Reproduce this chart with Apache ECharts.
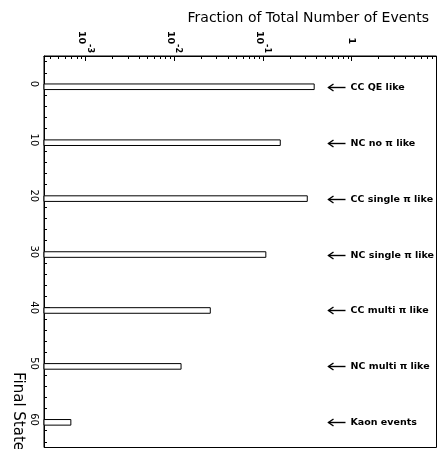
<!DOCTYPE html>
<html>
<head>
<meta charset="utf-8">
<script src="https://cdn.jsdelivr.net/npm/echarts@6/dist/echarts.min.js"></script>
<style>
  html, body { margin: 0; padding: 0; background: #fff; }
  #chart { width: 437px; height: 449px; }
</style>
</head>
<body>
<div id="chart"></div>
<script>
// Final-state classes, their row on the vertical axis, and fraction of all events
const finalStates = ['CC QE like', 'NC no π like', 'CC single π like', 'NC single π like',
                     'CC multi π like', 'NC multi π like', 'Kaon events'];
const statePositions = [0, 10, 20, 30, 40, 50, 60];
const eventFractions = [0.378, 0.157, 0.316, 0.108, 0.0256, 0.0120, 0.00069];

// Axis ranges
const fractionRange = [3.44e-4, 9.0];
const stateRange = [-5, 65];

// Log-axis minor ticks: mantissas 2..9 in each decade
const minorMantissas = [2, 3, 4, 5, 6, 7, 8, 9];
const minorDecades = [-4, -3, -2, -1, 0];
const minorTickValues = [];
minorDecades.forEach(d => minorMantissas.forEach(m => {
  const v = m * Math.pow(10, d);
  if (v > fractionRange[0] && v <= fractionRange[1]) minorTickValues.push(v);
}));

const FONT = 'DejaVu Sans';
const chart = echarts.init(document.getElementById('chart'));

chart.setOption({
  animation: false,
  backgroundColor: '#fff',
  title: {
    text: 'Fraction of Total Number of Events',
    right: 3,
    top: 6,
    textStyle: { fontFamily: FONT, fontSize: 14, fontWeight: 'normal', color: '#000' }
  },
  graphic: [{
    type: 'text',
    x: 18,
    y: 372,
    rotation: -Math.PI / 2,
    style: {
      text: 'Final State',
      fontFamily: FONT,
      fontSize: 15,
      fill: '#000',
      align: 'left',
      verticalAlign: 'middle'
    }
  }],
  grid: {
    left: 44, top: 56, right: 0.5, bottom: 1.5,
    show: true, borderColor: '#000', borderWidth: 1, backgroundColor: 'transparent'
  },
  xAxis: {
    type: 'log',
    position: 'top',
    min: fractionRange[0],
    max: fractionRange[1],
    axisLine: { show: true, onZero: false, lineStyle: { color: '#000', width: 1 } },
    axisTick: { show: true, inside: true, length: 5, lineStyle: { color: '#000' } },
    minorTick: { show: false },
    splitLine: { show: false },
    axisLabel: {
      show: true,
      rotate: 90,
      margin: 3,
      showMinLabel: false,
      showMaxLabel: false,
      color: '#000',
      formatter: v => {
        const e = Math.round(Math.log10(v));
        if (e === 0) return '{one|1}';
        return '{b|10}{s|' + e + '}';
      },
      rich: {
        b: { fontFamily: FONT, fontWeight: 'bold', fontSize: 9.5, lineHeight: 17, verticalAlign: 'bottom', color: '#000' },
        s: { fontFamily: FONT, fontWeight: 'bold', fontSize: 8, lineHeight: 17, verticalAlign: 'top', color: '#000' },
        one: { fontFamily: FONT, fontWeight: 'bold', fontSize: 9.5, lineHeight: 17, padding: [0, 9, 0, 0], color: '#000' }
      }
    }
  },
  yAxis: {
    type: 'value',
    inverse: true,
    min: stateRange[0],
    max: stateRange[1],
    axisLine: { show: true, onZero: false, lineStyle: { color: '#000', width: 1 } },
    axisTick: { show: true, inside: true, length: 6, lineStyle: { color: '#000' } },
    minorTick: { show: true, splitNumber: 5, length: 3, lineStyle: { color: '#000' } },
    splitLine: { show: false },
    axisLabel: {
      show: true,
      rotate: -90,
      margin: 5,
      showMinLabel: false,
      showMaxLabel: false,
      fontFamily: FONT,
      fontSize: 10,
      color: '#000'
    }
  },
  series: [
    {
      // outlined bars, one unit tall, from the left edge of the log axis
      type: 'custom',
      name: 'fractions',
      data: statePositions.map((s, i) => [eventFractions[i], s]),
      encode: { x: 0, y: 1 },
      renderItem: (params, api) => {
        const v = api.value(0);
        const s = api.value(1);
        const p0 = api.coord([fractionRange[0], s]);
        const p1 = api.coord([v, s + 1]);
        const cs = params.coordSys;
        const cy = Math.round((p0[1] + p1[1]) / 2) + 0.5;
        const ax = cs.x + cs.width - 108;
        return {
          type: 'group',
          children: [
            {
              type: 'rect',
              shape: { x: p0[0], y: p0[1], width: p1[0] - p0[0], height: p1[1] - p0[1] },
              style: { fill: '#fff', stroke: '#000', lineWidth: 1 }
            },
            {
              // pointer arrow: shaft and open head
              type: 'polyline',
              shape: { points: [[ax + 17, cy], [ax, cy]] },
              style: { stroke: '#000', lineWidth: 1.4, fill: null }
            },
            {
              type: 'polyline',
              shape: { points: [[ax + 5, cy - 3.5], [ax, cy], [ax + 5, cy + 3.5]] },
              style: { stroke: '#000', lineWidth: 1.4, fill: null }
            },
            {
              type: 'text',
              x: ax + 22,
              y: cy,
              style: {
                text: finalStates[params.dataIndex],
                fontFamily: FONT,
                fontWeight: 'bold',
                fontSize: 9.5,
                fill: '#000',
                align: 'left',
                verticalAlign: 'middle'
              }
            }
          ]
        };
      }
    },
    {
      // minor ticks of the log axis, along the top edge
      type: 'custom',
      name: 'minorTicks',
      silent: true,
      data: minorTickValues.map(v => [v, stateRange[0]]),
      encode: { x: 0, y: 1 },
      renderItem: (params, api) => {
        const p = api.coord([api.value(0), stateRange[0]]);
        const x = Math.round(p[0]) + 0.5;
        return {
          type: 'line',
          shape: { x1: x, y1: p[1], x2: x, y2: p[1] + 3 },
          style: { stroke: '#000', lineWidth: 1 }
        };
      }
    }
  ]
});
</script>
</body>
</html>
